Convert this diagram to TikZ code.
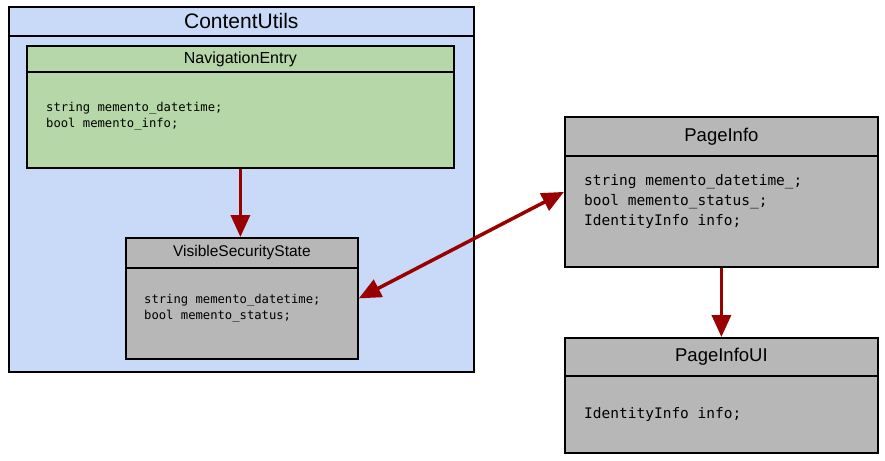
\documentclass[tikz,border=0pt]{standalone}
\usepackage{fontspec}
\setmainfont{Liberation Sans}
\setmonofont{DejaVu Sans Mono}
\usepackage{tikz}
\usetikzlibrary{arrows.meta,positioning,calc}
\definecolor{pkgblue}{HTML}{C9DAF8}
\definecolor{clsgreen}{HTML}{B6D7A8}
\definecolor{clsgrey}{HTML}{B7B7B7}
\definecolor{linkred}{HTML}{990000}
\newcommand{\fsz}[1]{\fontsize{#1}{1.3\dimexpr#1pt\relax}\selectfont}

\begin{document}
\begin{tikzpicture}[x=1pt, y=-1pt,
  box/.style={draw, line width=1.8pt, anchor=north west, inner sep=0pt},
  head/.style={box, align=center},
  body/.style={anchor=west, align=left, inner sep=0pt, font=\ttfamily},
  arr/.style={draw=linkred, line width=3.5pt, -{Triangle[length=22pt, width=19pt]}}]
\useasboundingbox (0,0) rectangle (885,460);
% package
\node[box, fill=pkgblue, line width=1.6pt, minimum width=465pt, minimum height=365pt] (pkg) at (8,6) {};
\node[head, fill=pkgblue, line width=1.6pt, minimum width=465pt, minimum height=29pt, font=\fsz{21}] (pkghead) at (pkg.north west) {ContentUtils};
% classes
\node[box, fill=clsgreen, minimum width=427pt, minimum height=122pt] (nav) at (26,45) {};
\node[head, fill=clsgreen, minimum width=427pt, minimum height=26pt, font=\fsz{16}] (navhead) at (nav.north west) {NavigationEntry};
\node[body, font=\ttfamily\fontsize{12.2}{16}\selectfont] (navbody) at ([shift={(20,44)}]navhead.south west)
  {string memento\_datetime;\\bool memento\_info;};
\node[box, fill=clsgrey, minimum width=232pt, minimum height=121pt] (vss) at (125,237) {};
\node[head, fill=clsgrey, minimum width=232pt, minimum height=30pt, font=\fsz{15.5}] (vsshead) at (vss.north west) {VisibleSecurityState};
\node[body, font=\ttfamily\fontsize{12.2}{16}\selectfont] (vssbody) at ([shift={(19,39)}]vsshead.south west)
  {string memento\_datetime;\\bool memento\_status;};
\node[box, fill=clsgrey, minimum width=313pt, minimum height=150pt] (page) at (564,116) {};
\node[head, fill=clsgrey, minimum width=313pt, minimum height=39pt, font=\fsz{18.5}] (pagehead) at (page.north west) {PageInfo};
\node[body, font=\ttfamily\fontsize{14.5}{20}\selectfont] (pagebody) at ([shift={(20,45)}]pagehead.south west)
  {string memento\_datetime\_;\\bool memento\_status\_;\\IdentityInfo info;};
\node[box, fill=clsgrey, minimum width=313pt, minimum height=115pt] (pageui) at (564,337) {};
\node[head, fill=clsgrey, minimum width=313pt, minimum height=38pt, font=\fsz{18.5}] (pageuihead) at (pageui.north west) {PageInfoUI};
\node[body, font=\ttfamily\fontsize{14.5}{20}\selectfont] (pageuibody) at ([shift={(20,38)}]pageuihead.south west)
  {IdentityInfo info;};
% links
\draw[arr] (nav.south) -- (nav.south |- vss.north);
\draw[arr, {Triangle[length=22pt, width=19pt]}-{Triangle[length=22pt, width=19pt]}] (vss.east) -- (page.west);
\draw[arr] (page.south) -- (pageui.north);
\end{tikzpicture}
\end{document}
